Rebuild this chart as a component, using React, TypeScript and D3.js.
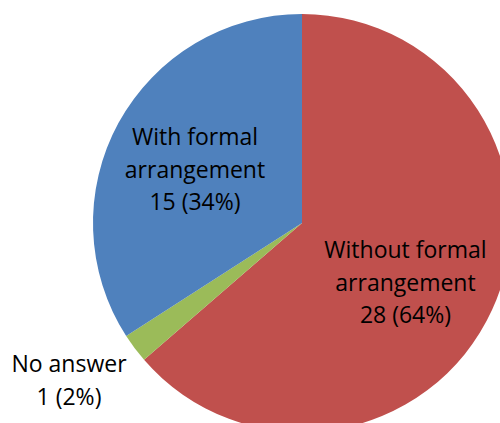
import { useRef, useEffect } from 'react';
import * as d3 from 'd3';

const categories = ['Without formal arrangement', 'No answer', 'With formal arrangement'];
const values = [28, 1, 15];
const percents = ['64%', '2%', '34%'];
const colors = ['#C0504D', '#9BBB59', '#4F81BD'];

export default function App() {
  const svgRef = useRef<SVGSVGElement>(null);
  const width = 500, height = 423;

  useEffect(() => {
    const svg = d3.select(svgRef.current);
    svg.selectAll('*').remove();

    const cx = 302, cy = 223, r = 209;
    const pie = d3.pie<number>().sort(null).value((d) => d);
    const arcs = pie(values);
    const arc = d3.arc<d3.PieArcDatum<number>>().innerRadius(0).outerRadius(r);

    const g = svg.append('g').attr('transform', `translate(${cx},${cy})`);
    g.selectAll('path').data(arcs).enter().append('path')
      .attr('d', arc)
      .attr('fill', (_, i) => colors[i])
      .attr('stroke', 'none');

    // label lines, positioned by hand per slice (like Excel)
    const labelPos = [
      { x: 405.5, y: 250, lines: ['Without formal', 'arrangement'] },
      { x: 69, y: 364, lines: ['No answer'] },
      { x: 195, y: 137, lines: ['With formal', 'arrangement'] },
    ];
    const lh = 32.5;
    labelPos.forEach((p, i) => {
      const all = [...p.lines, `${values[i]} (${percents[i]})`];
      const t = svg.append('text')
        .attr('text-anchor', 'middle')
        .attr('font-family', 'Open Sans, sans-serif')
        .attr('font-size', '23px')
        .attr('fill', '#000');
      all.forEach((s, k) => {
        t.append('tspan').attr('x', p.x).attr('y', p.y + k * lh).attr('dy', '0.35em').text(s);
      });
    });
  }, []);

  return (
    <svg ref={svgRef} width={width} height={height}
      style={{ position: 'absolute', left: 0, top: 0, display: 'block', background: '#fff' }} />
  );
}
